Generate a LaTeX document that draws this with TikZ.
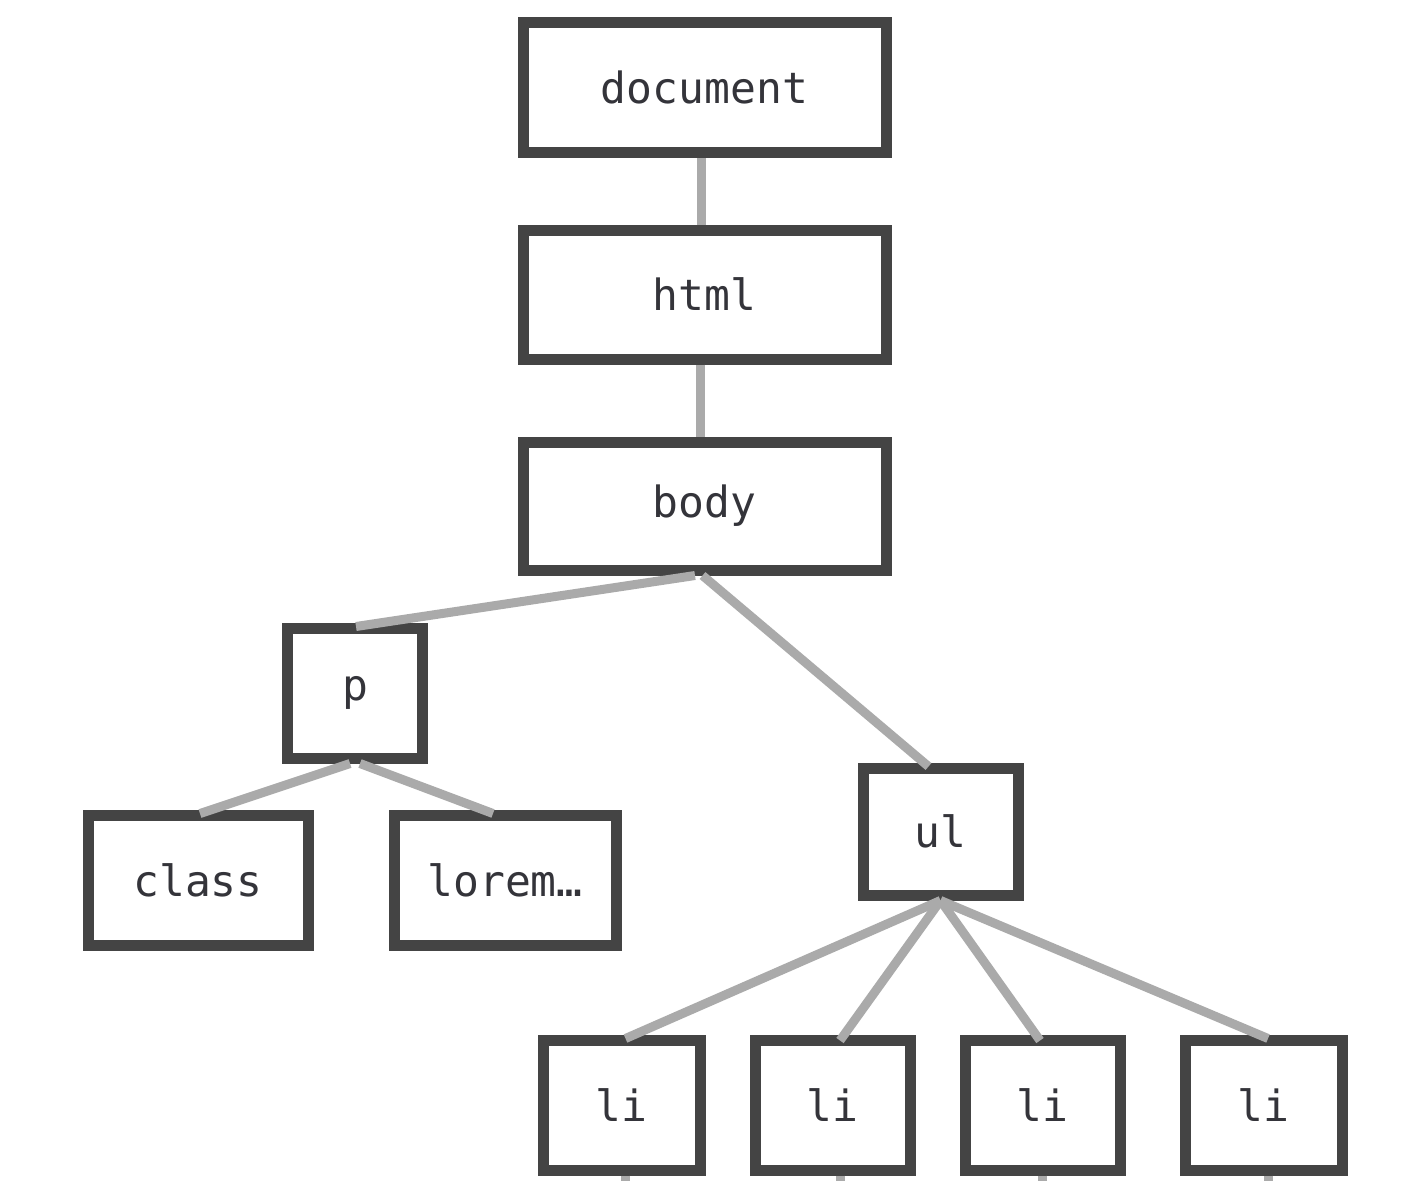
\documentclass[tikz,border=0pt]{standalone}
\usepackage{fontspec}
\setmonofont{DejaVu Sans Mono}
\definecolor{boxc}{RGB}{68,68,68}
\definecolor{txtc}{RGB}{52,52,58}
\definecolor{linec}{RGB}{170,170,170}
\begin{document}
\begin{tikzpicture}[x=1pt,y=-1pt,
  box/.style={draw=boxc,line width=11pt,fill=white,inner sep=0pt,
    font=\ttfamily\fontsize{43}{48}\selectfont,text=txtc},
  conn/.style={draw=linec,line width=9pt}]
\useasboundingbox[fill=white] (0,0) rectangle (1420,1180);
\node[box,minimum width=363pt,minimum height=130pt] (doc) at (704.5,87.5) {document};
\node[box,minimum width=363pt,minimum height=129pt] (html) at (704.5,294.5) {html};
\node[box,minimum width=363pt,minimum height=128pt] (body) at (704.5,506) {body};
\node[box,minimum width=135pt,minimum height=130pt] (p) at (355,693) {p};
\node[box,minimum width=220pt,minimum height=130pt] (class) at (198,880) {class};
\node[box,minimum width=222pt,minimum height=130pt] (lorem) at (505,880) {lorem…};
\node[box,minimum width=155pt,minimum height=127pt] (ul) at (940.5,831.5) {ul};
\node[box,minimum width=157pt,minimum height=130pt] (li1) at (621.5,1105) {li};
\node[box,minimum width=155pt,minimum height=130pt] (li2) at (832.5,1105) {li};
\node[box,minimum width=155pt,minimum height=130pt] (li3) at (1042.5,1105) {li};
\node[box,minimum width=157pt,minimum height=130pt] (li4) at (1263.5,1105) {li};
\coordinate (e1) at (625,1182);
\coordinate (e2) at (840,1182);
\coordinate (e3) at (1042,1182);
\coordinate (e4) at (1268,1182);
\draw[conn] ([xshift=-3.5pt]doc.south) -- ([xshift=-3.5pt]html.north);
\draw[conn] ([xshift=-4.5pt]html.south) -- ([xshift=-4.5pt]body.north);
\draw[conn] ([xshift=-9.5pt]body.south) -- ([xshift=1pt,yshift=-4pt]p.north);
\draw[conn] ([xshift=-2pt]body.south) -- ([xshift=-12pt,yshift=-4pt]ul.north);
\draw[conn] ([xshift=-5pt]p.south) -- ([xshift=2pt,yshift=-4pt]class.north);
\draw[conn] ([xshift=5pt]p.south) -- ([xshift=-12pt,yshift=-4pt]lorem.north);
\draw[conn] (ul.south) -- ([xshift=4pt,yshift=-4pt]li1.north);
\draw[conn] (ul.south) -- ([xshift=7.5pt,yshift=-6pt]li2.north);
\draw[conn] (ul.south) -- ([xshift=-2.5pt,yshift=-6pt]li3.north);
\draw[conn] (ul.south) -- ([xshift=4.5pt,yshift=-4pt]li4.north);
\draw[conn] ([xshift=3.5pt]li1.south) -- (e1);
\draw[conn] ([xshift=7.5pt]li2.south) -- (e2);
\draw[conn] ([xshift=-0.5pt]li3.south) -- (e3);
\draw[conn] ([xshift=4.5pt]li4.south) -- (e4);
\end{tikzpicture}
\end{document}
